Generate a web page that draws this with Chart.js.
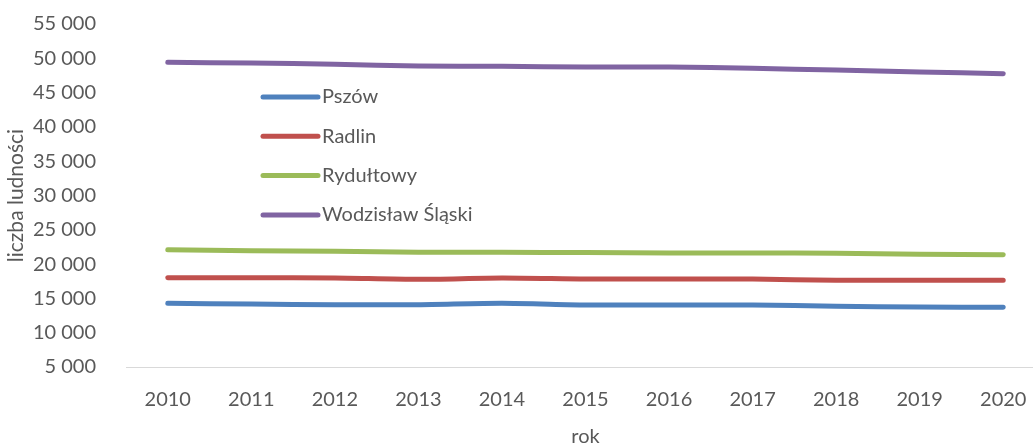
<!DOCTYPE html>
<html lang="pl">
<head>
  <meta charset="UTF-8" />
  <title>Liczba ludności</title>
  <script src="https://cdn.jsdelivr.net/npm/chart.js"></script>
  <style>
    html, body { margin: 0; padding: 0; background: #fff; overflow: hidden; }
    #wrap { width: 1050px; height: 458px; position: relative; top: -10px; }
  </style>
</head>
<body>
  <div id="wrap"><canvas id="popChart"></canvas></div>

  <script>
    const years = ['2010', '2011', '2012', '2013', '2014', '2015', '2016', '2017', '2018', '2019', '2020'];
    const pszow = [14290, 14180, 14080, 14080, 14290, 14050, 14040, 14040, 13850, 13750, 13700];
    const radlin = [18020, 18020, 17970, 17780, 17970, 17830, 17830, 17830, 17640, 17640, 17640];
    const rydultowy = [22100, 21950, 21870, 21720, 21720, 21690, 21620, 21620, 21570, 21430, 21370];
    const wodzislaw = [49420, 49310, 49130, 48880, 48830, 48730, 48730, 48540, 48290, 48000, 47760];
    const seriesNames = ['Pszów', 'Radlin', 'Rydułtowy', 'Wodzisław Śląski'];
    const seriesColors = ['#4f81bd', '#c0504d', '#9bbb59', '#8064a2'];

    const FONT = 'Lato, "Open Sans", sans-serif';
    const TEXT = '#595959';

    function fmt(v) {
      return String(v).replace(/\B(?=(\d{3})+(?!\d))/g, ' ');
    }

    // legend sits inside the plot, drawn by hand
    const insideLegend = {
      id: 'insideLegend',
      afterDraw(chart) {
        const ctx = chart.ctx;
        const area = chart.chartArea;
        const x0 = area.left + 137;
        let y = area.top + 73;
        ctx.save();
        ctx.font = '20px ' + FONT;
        ctx.textBaseline = 'middle';
        chart.data.datasets.forEach(ds => {
          ctx.strokeStyle = ds.borderColor;
          ctx.lineWidth = 5;
          ctx.lineCap = 'round';
          ctx.beginPath();
          ctx.moveTo(x0, y);
          ctx.lineTo(x0 + 55, y);
          ctx.stroke();
          ctx.fillStyle = TEXT;
          ctx.fillText(ds.label, x0 + 59, y);
          y += 39.3;
        });
        ctx.restore();
      }
    };

    const allSeries = [pszow, radlin, rydultowy, wodzislaw];
    const datasets = allSeries.map((vals, i) => ({
      label: seriesNames[i],
      data: vals,
      borderColor: seriesColors[i],
      backgroundColor: seriesColors[i],
      borderWidth: 5,
      borderCapStyle: 'round',
      pointRadius: 0,
      tension: 0.25,
      fill: false
    }));

    const ctx = document.getElementById('popChart').getContext('2d');
    new Chart(ctx, {
      type: 'line',
      data: { labels: years, datasets: datasets },
      plugins: [insideLegend],
      options: {
        responsive: true,
        maintainAspectRatio: false,
        animation: false,
        layout: { padding: { top: 3, right: 5, left: 0, bottom: 0 } },
        plugins: {
          legend: { display: false },
          tooltip: { enabled: false }
        },
        scales: {
          x: {
            offset: true,
            grid: { display: false },
            border: { display: true, color: '#d9d9d9', width: 1 },
            ticks: { color: TEXT, font: { family: FONT, size: 20 }, padding: 13, maxRotation: 0 },
            title: { display: true, text: 'rok', color: TEXT, font: { family: FONT, size: 20 }, padding: { top: 0, bottom: -1 } }
          },
          y: {
            min: 5000,
            max: 55000,
            grid: { display: false },
            border: { display: false },
            afterFit(scale) { scale.width = 126; },
            ticks: {
              stepSize: 5000,
              color: TEXT,
              font: { family: FONT, size: 20 },
              padding: 22,
              callback: v => fmt(v)
            },
            title: { display: true, text: 'liczba ludności', color: TEXT, font: { family: FONT, size: 21 }, padding: { top: 4, bottom: 0 } }
          }
        }
      }
    });
  </script>
</body>
</html>
